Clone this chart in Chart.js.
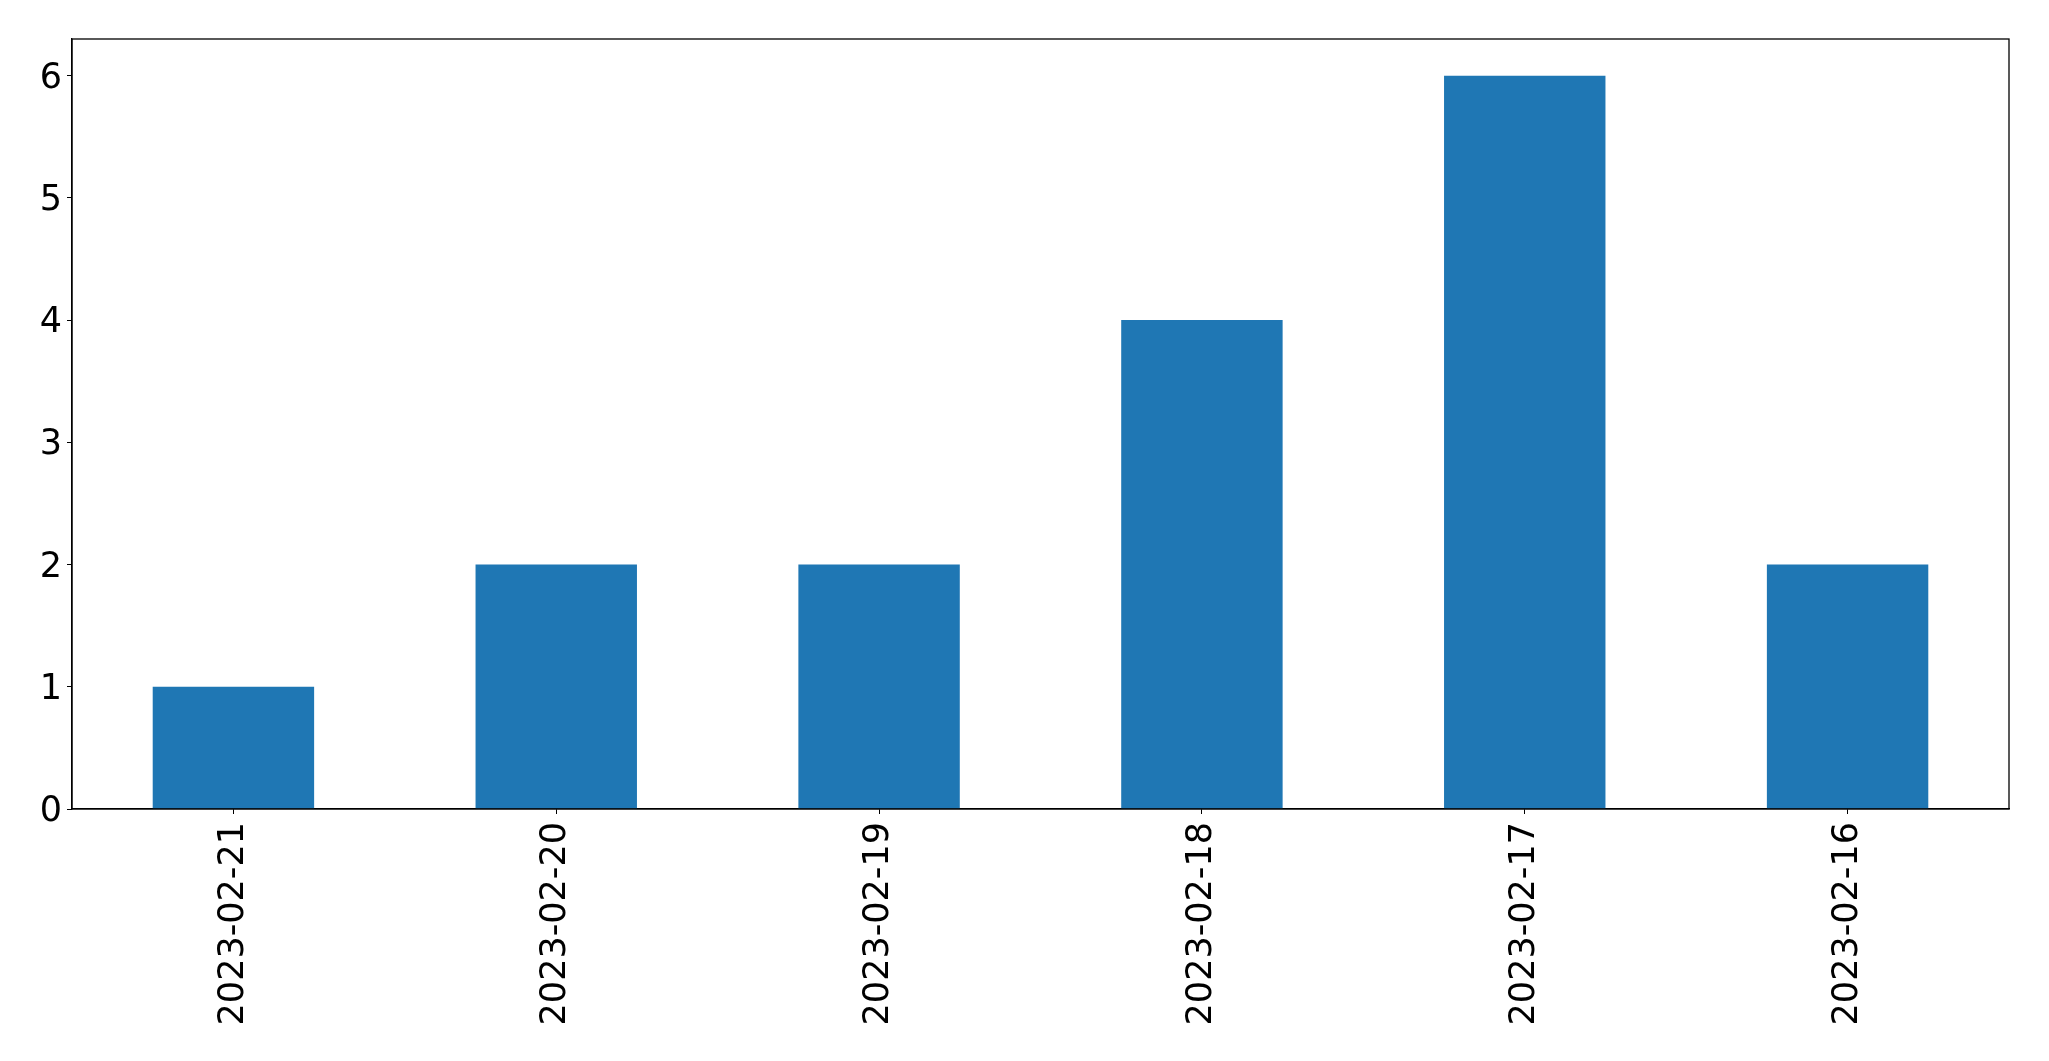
<!DOCTYPE html>
<html>
<head>
<meta charset="utf-8">
<script src="https://cdn.jsdelivr.net/npm/chart.js@4/dist/chart.umd.min.js"></script>
<style>
  html, body { margin: 0; padding: 0; background: #fff; }
  #wrap { width: 2049px; height: 1061px; position: relative; }
</style>
</head>
<body>
<div id="wrap"><canvas id="barras"></canvas></div>
<script>
'use strict'

const fechas = ['2023-02-21','2023-02-20','2023-02-19','2023-02-18','2023-02-17','2023-02-16']
const cantidades = [1,2,2,4,6,2]
const yTicks = [0,1,2,3,4,5,6]

// caja negra alrededor del area del grafico (como matplotlib)
const marco = {
  id: 'marco',
  afterDraw(chart) {
    const a = chart.chartArea
    const ctx = chart.ctx
    ctx.save()
    ctx.strokeStyle = '#000'
    ctx.lineWidth = 1.3
    ctx.strokeRect(a.left, a.top, a.right - a.left, a.bottom - a.top)
    ctx.restore()
  }
}

const data = {
  labels: fechas,
  datasets: [{
    data: cantidades,
    backgroundColor: '#1f77b4',
    borderWidth: 0,
    barPercentage: 0.5,
    categoryPercentage: 1
  }]
}

const config = {
  type: 'bar',
  data: data,
  plugins: [marco],
  options: {
    responsive: true,
    maintainAspectRatio: false,
    animation: false,
    layout: { padding: { left: 0, right: 40, top: 39, bottom: 0 } },
    plugins: {
      legend: { display: false },
      tooltip: { enabled: false }
    },
    scales: {
      x: {
        offset: true,
        grid: { display: true, offset: false, drawOnChartArea: false, drawTicks: true, tickLength: 5, color: '#000' },
        border: { display: true, color: '#000', width: 1.3 },
        ticks: {
          color: '#000',
          font: { family: 'DejaVu Sans', size: 35 },
          minRotation: 90,
          maxRotation: 90,
          padding: 8,
          autoSkip: false
        },
        afterFit(scale) { scale.height = 252 }
      },
      y: {
        min: 0,
        max: 6.3,
        grid: { display: true, drawOnChartArea: false, drawTicks: true, tickLength: 5, color: '#000' },
        border: { display: true, color: '#000', width: 1.3 },
        ticks: {
          color: '#000',
          font: { family: 'DejaVu Sans', size: 35 },
          padding: 5,
          labelOffset: 3
        },
        afterBuildTicks(scale) { scale.ticks = yTicks.map(v => ({ value: v })) },
        afterFit(scale) { scale.width = 72 }
      }
    }
  }
}

let barras = new Chart(document.querySelector('#barras'), config)
</script>
</body>
</html>
